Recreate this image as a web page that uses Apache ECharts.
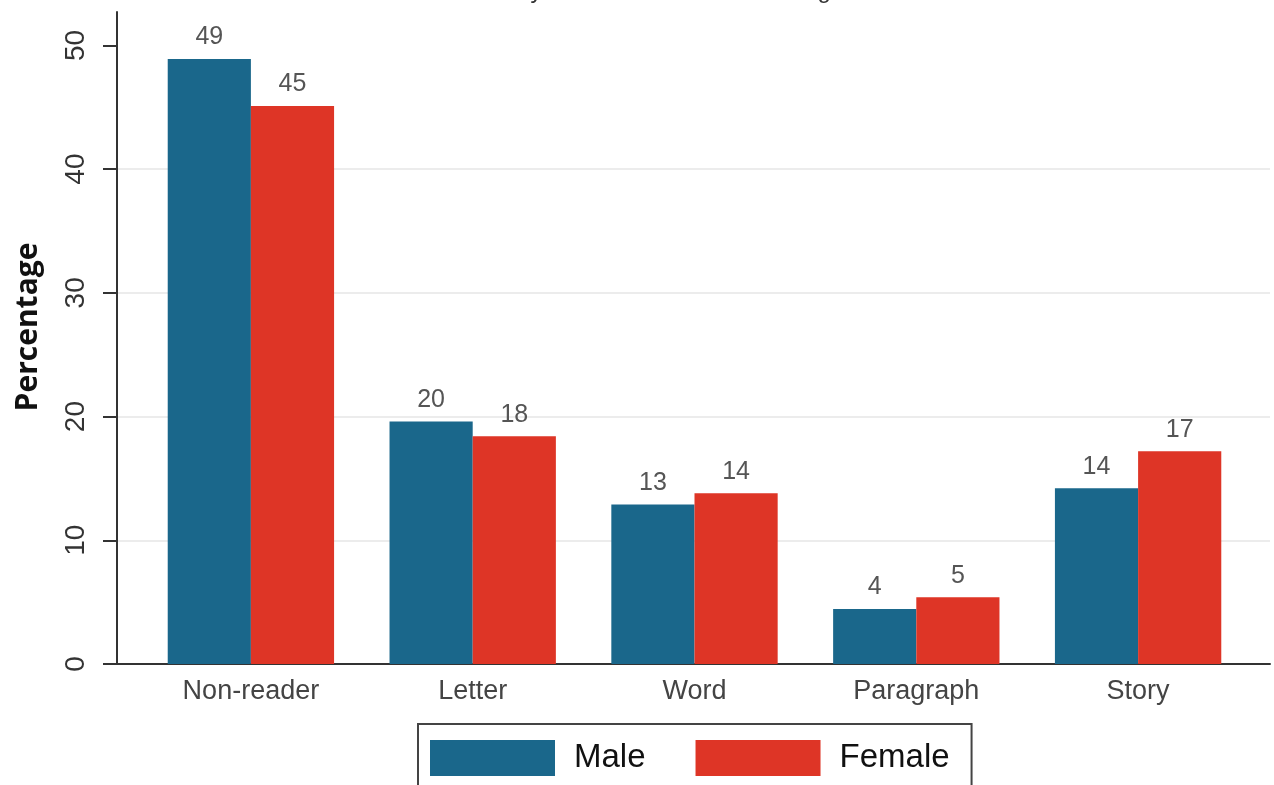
<!DOCTYPE html>
<html>
<head>
<meta charset="utf-8">
<script src="https://cdn.jsdelivr.net/npm/echarts@6/dist/echarts.min.js"></script>
<style>
  html, body { margin: 0; padding: 0; background: #ffffff; }
  #chart { width: 1274px; height: 785px; }
</style>
</head>
<body>
<div id="chart"></div>
<script>
// Reading level categories and the share of children (%) in each, by sex
const categories = ['Non-reader', 'Letter', 'Word', 'Paragraph', 'Story'];
const maleValues = [48.9, 19.6, 12.9, 4.45, 14.2];
const femaleValues = [45.1, 18.4, 13.8, 5.4, 17.2];
const yTicks = [0, 10, 20, 30, 40, 50];
const seriesNames = ['Male', 'Female'];

const Y_MAX = 52.7;
const FONT = '"Liberation Sans", Arial, Helvetica, sans-serif';
const MALE_COLOR = '#1a678b';
const FEMALE_COLOR = '#de3526';

const chart = echarts.init(document.getElementById('chart'), null, { renderer: 'canvas' });

const barLabel = {
  show: true,
  position: 'top',
  distance: 9,
  fontFamily: FONT,
  fontSize: 25,
  color: '#555555',
  formatter: p => Math.round(p.value)
};

chart.setOption({
  backgroundColor: '#ffffff',
  animation: false,
  title: {
    text: 'by sex and school level categories',
    left: 695,
    textAlign: 'center',
    top: -26,
    textStyle: { fontFamily: FONT, fontSize: 24, fontWeight: 'normal', color: '#333333' }
  },
  legend: {
    data: seriesNames,
    left: 418,
    top: 724,
    orient: 'horizontal',
    icon: 'rect',
    itemWidth: 125,
    itemHeight: 36,
    itemGap: 50,
    padding: [16, 22, 20, 12],
    borderColor: '#444444',
    borderWidth: 2,
    borderRadius: 0,
    textStyle: { fontFamily: FONT, fontSize: 33, color: '#111111', padding: [0, 0, 0, 14] }
  },
  grid: [
    // frame: axis lines and gridlines
    { left: 117, right: 4, top: 12, bottom: 121, containLabel: false },
    // bars
    { left: 140, right: 25, top: 12, bottom: 121, containLabel: false }
  ],
  xAxis: [
    {
      type: 'value', gridIndex: 0, min: 0, max: 1,
      axisLine: { show: true, onZero: false, lineStyle: { color: '#333333', width: 2 } },
      axisTick: { show: false }, axisLabel: { show: false }, splitLine: { show: false }
    },
    {
      type: 'category', gridIndex: 1, data: categories,
      axisLine: { show: false }, axisTick: { show: false },
      axisLabel: { fontFamily: FONT, fontSize: 27, color: '#444444', margin: 14 },
      splitLine: { show: false }
    }
  ],
  yAxis: [
    {
      type: 'value', gridIndex: 0, min: 0, max: Y_MAX,
      name: 'Percentage',
      nameLocation: 'middle',
      nameGap: 74,
      nameTextStyle: {
        fontFamily: '"Open Sans", sans-serif', fontWeight: 'bold', fontSize: 30, color: '#111111',
        padding: [0, 0, 0, 22]
      },
      axisLine: { show: true, lineStyle: { color: '#333333', width: 2 } },
      axisTick: { show: true, length: 14, customValues: yTicks, lineStyle: { color: '#333333', width: 2 } },
      axisLabel: { rotate: 90, fontFamily: FONT, fontSize: 28, color: '#333333', margin: 27, customValues: yTicks },
      splitLine: { show: true, showMaxLine: false, showMinLine: false, lineStyle: { color: '#ececec', width: 2 } }
    },
    {
      type: 'value', gridIndex: 1, min: 0, max: Y_MAX,
      axisLine: { show: false }, axisTick: { show: false },
      axisLabel: { show: false }, splitLine: { show: false }
    }
  ],
  series: [
    {
      name: seriesNames[0], type: 'bar', xAxisIndex: 1, yAxisIndex: 1,
      data: maleValues, itemStyle: { color: MALE_COLOR },
      barGap: '0%', barCategoryGap: '25%', label: barLabel
    },
    {
      name: seriesNames[1], type: 'bar', xAxisIndex: 1, yAxisIndex: 1,
      data: femaleValues, itemStyle: { color: FEMALE_COLOR },
      barGap: '0%', barCategoryGap: '25%', label: barLabel
    }
  ]
});
</script>
</body>
</html>
